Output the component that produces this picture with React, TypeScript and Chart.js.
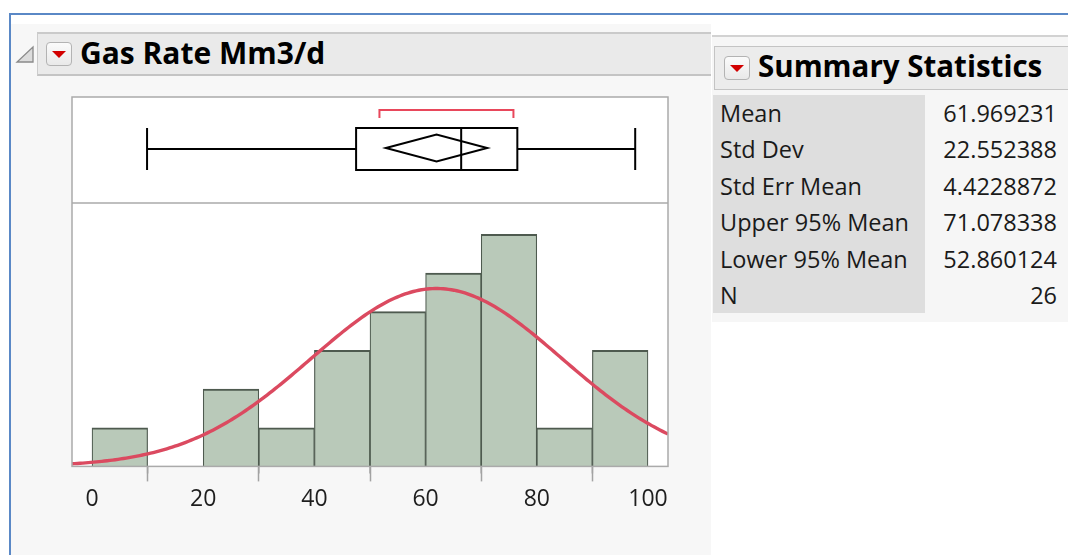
import { useEffect, useRef } from "react";
import { Chart, registerables } from "chart.js";

Chart.register(...registerables);

// Histogram bins (left edges) and their counts
const binStarts = [0, 10, 20, 30, 40, 50, 60, 70, 80, 90];
const binCounts = [1, 0, 2, 1, 3, 4, 5, 6, 1, 3];
const binWidth = 10;

// Value axis
const majorTicks = [0, 20, 40, 60, 80, 100];
const minorTicks = [10, 30, 50, 70, 90];
const axisMin = -3.6;
const axisMax = 103.6;

// Summary statistics table
const statLabels = ["Mean", "Std Dev", "Std Err Mean", "Upper 95% Mean", "Lower 95% Mean", "N"];
const statValues = ["61.969231", "22.552388", "4.4228872", "71.078338", "52.860124", "26"];

// Outlier box plot: min, Q1, median, Q3, max
const boxQuantiles = [9.9, 47.5, 66.4, 76.5, 97.7];
// Shortest half bracket
const shortestHalf = [51.7, 75.8];

// Count at the top of the histogram band, and at the top of the frame
const histTop = 6.8;
const yMax = 9.55;

const mean = parseFloat(statValues[0]);
const stdDev = parseFloat(statValues[1]);
const upper95 = parseFloat(statValues[3]);
const lower95 = parseFloat(statValues[4]);
const nObs = parseFloat(statValues[5]);

// Fitted normal density, scaled to counts per bin
function fittedNormal(): { x: number; y: number }[] {
  const pts: { x: number; y: number }[] = [];
  const scale = (nObs * binWidth) / (stdDev * Math.sqrt(2 * Math.PI));
  const steps = 220;
  for (let i = 0; i <= steps; i++) {
    const x = axisMin + ((axisMax - axisMin) * i) / steps;
    const z = (x - mean) / stdDev;
    pts.push({ x, y: scale * Math.exp(-0.5 * z * z) });
  }
  return pts;
}

const FONT = "'Open Sans', 'Noto Sans', sans-serif";

const framePlugin = {
  id: "distributionFrame",
  beforeDatasetsDraw(chart: any) {
    const { ctx, chartArea: a } = chart;
    ctx.save();
    ctx.fillStyle = "#ffffff";
    ctx.fillRect(a.left, a.top, a.right - a.left, a.bottom - a.top);
    ctx.restore();
  },
  afterDraw(chart: any) {
    const { ctx, chartArea: a } = chart;
    const xs = chart.scales.x;
    const ys = chart.scales.y;
    const px = (v: number) => xs.getPixelForValue(v);
    const sepY = Math.round(ys.getPixelForValue(histTop));

    ctx.save();
    // minor ticks
    ctx.strokeStyle = "#a3a3a3";
    ctx.lineWidth = 1.5;
    ctx.beginPath();
    minorTicks.forEach((v) => {
      const x = px(v);
      ctx.moveTo(x, a.bottom);
      ctx.lineTo(x, a.bottom + 7);
    });
    ctx.stroke();

    // frame and band separator
    ctx.strokeStyle = "#aaaaaa";
    ctx.lineWidth = 1.5;
    ctx.strokeRect(a.left, a.top, a.right - a.left, a.bottom - a.top);
    ctx.beginPath();
    ctx.moveTo(a.left, sepY);
    ctx.lineTo(a.right, sepY);
    ctx.stroke();

    // box plot
    const cy = Math.round((a.top + sepY) / 2) - 1;
    const [bMin, q1, med, q3, bMax] = boxQuantiles.map(px);
    const half = 21;
    ctx.strokeStyle = "#000000";
    ctx.lineWidth = 2;
    ctx.beginPath();
    ctx.moveTo(bMin, cy);
    ctx.lineTo(q1, cy);
    ctx.moveTo(q3, cy);
    ctx.lineTo(bMax, cy);
    ctx.moveTo(bMin, cy - half);
    ctx.lineTo(bMin, cy + half);
    ctx.moveTo(bMax, cy - half);
    ctx.lineTo(bMax, cy + half);
    ctx.moveTo(med, cy - half);
    ctx.lineTo(med, cy + half);
    ctx.stroke();
    ctx.strokeRect(q1, cy - half, q3 - q1, half * 2);

    // mean confidence diamond
    const dy = cy - 1;
    const dh = 13.5;
    const mx = px(mean);
    ctx.beginPath();
    ctx.moveTo(px(lower95), dy);
    ctx.lineTo(mx, dy - dh);
    ctx.lineTo(px(upper95), dy);
    ctx.lineTo(mx, dy + dh);
    ctx.closePath();
    ctx.stroke();

    // shortest half bracket
    const by = cy - 39;
    ctx.strokeStyle = "#e8475b";
    ctx.lineWidth = 2;
    ctx.beginPath();
    ctx.moveTo(px(shortestHalf[0]), by + 8);
    ctx.lineTo(px(shortestHalf[0]), by);
    ctx.lineTo(px(shortestHalf[1]), by);
    ctx.lineTo(px(shortestHalf[1]), by + 8);
    ctx.stroke();
    ctx.restore();
  },
};

function DistributionChart() {
  const ref = useRef<HTMLCanvasElement | null>(null);

  useEffect(() => {
    if (!ref.current) return;
    const chart = new Chart(ref.current, {
      type: "bar",
      data: {
        datasets: [
          {
            type: "line",
            label: "Normal",
            data: fittedNormal(),
            borderColor: "#db4a60",
            borderWidth: 3.4,
            pointRadius: 0,
            tension: 0,
            fill: false,
            order: 0,
          } as any,
          {
            type: "bar",
            label: "Count",
            data: binStarts.map((s, i) => ({ x: s + binWidth / 2, y: binCounts[i] })),
            backgroundColor: "#b9c9b9",
            borderColor: "#4e5a4f",
            borderWidth: { top: 2, left: 1.2, right: 1.2, bottom: 0 },
            borderSkipped: false,
            barPercentage: 1,
            categoryPercentage: 1,
            order: 1,
          } as any,
        ],
      },
      options: {
        animation: false,
        responsive: false,
        parsing: true,
        layout: { padding: { left: 12, right: 32, top: 7, bottom: 3 } },
        plugins: { legend: { display: false }, tooltip: { enabled: false } },
        scales: {
          x: {
            type: "linear",
            position: "bottom",
            min: axisMin,
            max: axisMax,
            offset: false,
            afterBuildTicks: (scale: any) => {
              scale.ticks = majorTicks.map((v) => ({ value: v }));
            },
            grid: {
              drawOnChartArea: false,
              drawTicks: true,
              tickLength: 15,
              tickColor: "#a3a3a3",
              tickWidth: 1.5,
            },
            border: { display: false },
            ticks: {
              padding: 4,
              color: "#1e1e1e",
              font: { family: FONT, size: 23 },
              maxRotation: 0,
              autoSkip: false,
              callback: (v: any) => String(v),
            },
          },
          y: {
            type: "linear",
            display: false,
            min: 0,
            max: yMax,
          },
        },
      } as any,
      plugins: [framePlugin],
    });
    return () => chart.destroy();
  }, []);

  return (
    <canvas
      ref={ref}
      width={640}
      height={430}
      style={{ position: "absolute", left: 60, top: 90, width: 640, height: 430 }}
    />
  );
}

function MenuButton({ left, top }: { left: number; top: number }) {
  return (
    <div
      style={{
        position: "absolute",
        left,
        top,
        width: 26,
        height: 24,
        boxSizing: "border-box",
        border: "1px solid #b3b3b3",
        borderRadius: 4,
        background: "linear-gradient(#fbfbfb, #e9e9e9)",
      }}
    >
      <svg width={24} height={22} style={{ position: "absolute", left: 0, top: 0 }}>
        <polygon points="5,8 19,8 12,15" fill="#d20000" />
      </svg>
    </div>
  );
}

export default function App() {
  const rowH = 36.4;
  return (
    <div
      style={{
        position: "absolute",
        left: 0,
        top: 0,
        width: 1068,
        height: 555,
        overflow: "hidden",
        background: "#ffffff",
        fontFamily: FONT,
      }}
    >
      {/* outer window outline */}
      <div style={{ position: "absolute", left: 9, top: 13, width: 1059, height: 2, background: "#5a88c6" }} />
      <div style={{ position: "absolute", left: 9, top: 13, width: 2, height: 542, background: "#5a88c6" }} />

      {/* distribution panel */}
      <div style={{ position: "absolute", left: 11, top: 24, width: 700, height: 531, background: "#f7f7f7" }} />
      <svg width={20} height={20} style={{ position: "absolute", left: 15, top: 45 }}>
        <polygon points="2,17 18,17 18,2" fill="#dcdcdc" stroke="#8a8a8a" strokeWidth={1.3} />
      </svg>
      <div
        style={{
          position: "absolute",
          left: 37,
          top: 32,
          width: 674,
          height: 44,
          boxSizing: "border-box",
          borderTop: "2px solid #cacaca",
          borderBottom: "2px solid #c4c4c4",
          borderLeft: "1.5px solid #cccccc",
          background: "#eaeaea",
        }}
      />
      <MenuButton left={46} top={42} />
      <div
        style={{
          position: "absolute",
          left: 80,
          top: 31,
          height: 44,
          lineHeight: "44px",
          fontSize: 30,
          fontWeight: 700,
          color: "#000",
          whiteSpace: "nowrap",
        }}
      >
        Gas Rate Mm3/d
      </div>

      <DistributionChart />

      {/* summary statistics panel */}
      <div
        style={{
          position: "absolute",
          left: 712,
          top: 35,
          width: 356,
          height: 285,
          background: "#f6f6f6",
          borderTop: "2px solid #d2d2d2",
        }}
      />
      <div
        style={{
          position: "absolute",
          left: 714,
          top: 46,
          width: 360,
          height: 44,
          boxSizing: "border-box",
          border: "1.5px solid #c4c4c4",
          background: "#ececec",
        }}
      />
      <MenuButton left={724} top={56} />
      <div
        style={{
          position: "absolute",
          left: 758,
          top: 44,
          height: 44,
          lineHeight: "44px",
          fontSize: 29.5,
          fontWeight: 700,
          color: "#000",
          whiteSpace: "nowrap",
        }}
      >
        Summary Statistics
      </div>
      <div style={{ position: "absolute", left: 713, top: 95, width: 212, height: rowH * 6, background: "#dedede" }} />
      {statLabels.map((lab, i) => (
        <div
          key={lab}
          style={{
            position: "absolute",
            left: 720,
            top: 95 + i * rowH,
            height: rowH,
            lineHeight: `${rowH}px`,
            fontSize: 23.5,
            color: "#1a1a1a",
            whiteSpace: "nowrap",
          }}
        >
          {lab}
        </div>
      ))}
      {statValues.map((val, i) => (
        <div
          key={statLabels[i]}
          style={{
            position: "absolute",
            right: 1068 - 1057,
            top: 95 + i * rowH,
            height: rowH,
            lineHeight: `${rowH}px`,
            fontSize: 23.5,
            color: "#1a1a1a",
            textAlign: "right",
            whiteSpace: "nowrap",
          }}
        >
          {val}
        </div>
      ))}
    </div>
  );
}
